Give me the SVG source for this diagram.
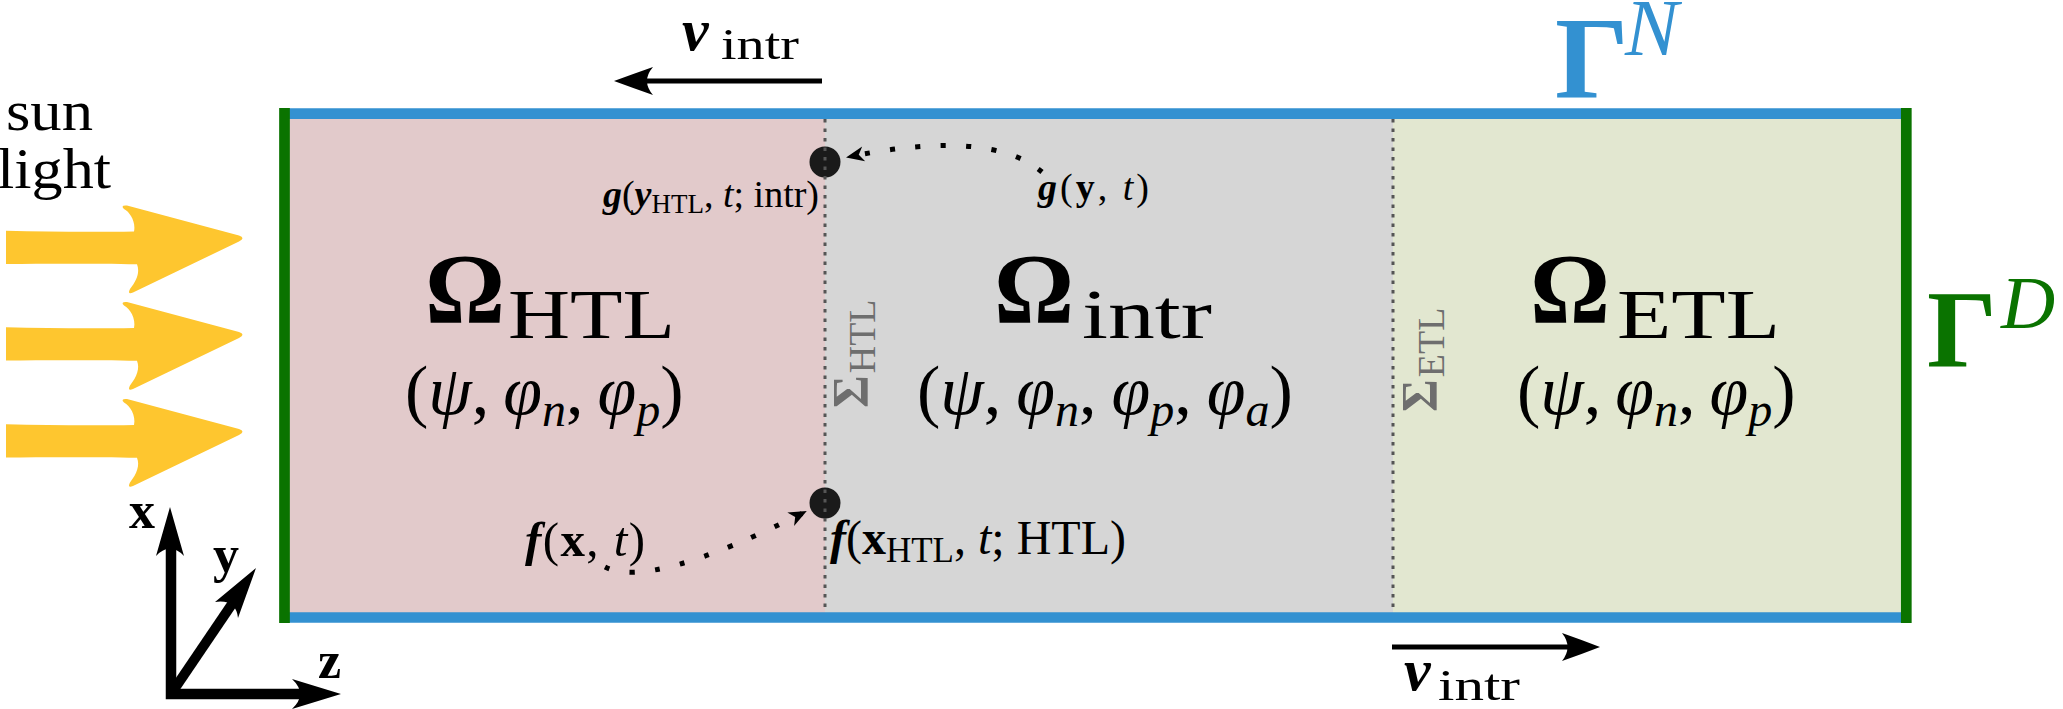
<svg xmlns="http://www.w3.org/2000/svg" width="2063" height="709" viewBox="0 0 2063 709">
<style>
text{font-family:"Liberation Serif","Times New Roman",serif;fill:#000}
.b{font-weight:bold}
.i{font-style:italic}
.bi{font-weight:bold;font-style:italic}
.sig{fill:#6e6e6e}
.dots{fill:none;stroke:#000;stroke-width:5;stroke-dasharray:5 20.5}
.div{fill:none;stroke:#555;stroke-width:3;stroke-dasharray:3.5 6}
.sun{fill:#fec62f}
</style>
<defs>
<marker id="ah" markerUnits="userSpaceOnUse" markerWidth="26" markerHeight="20" viewBox="-22 -10 26 20" refX="0" refY="0" orient="auto">
<path d="M2,0 L-16,-7.5 L-11,0 L-16,7.5 Z" fill="#000"/>
</marker>
<path id="sunArrow" d="M6,230.7 C50,232 100,232 134,231.5 C136,222 130,212 124,209 Q120,205 127,205.5 L239,235.5 Q246,238 239,241.5 L133,292.5 Q127,295 130,289 C137,280 140,272 137,264.3 C100,263.5 50,263.5 6,264 Z"/>
</defs>

<g id="sunlight">
<text x="49.5" y="130" font-size="58" text-anchor="middle" textLength="87" lengthAdjust="spacingAndGlyphs">sun</text>
<text x="54" y="188" font-size="58" text-anchor="middle" textLength="114" lengthAdjust="spacingAndGlyphs">light</text>
<use href="#sunArrow" class="sun"/>
<use href="#sunArrow" class="sun" transform="translate(0,96.5)"/>
<use href="#sunArrow" class="sun" transform="translate(0,193.5)"/>
</g>

<g id="htl">
<rect x="284" y="113" width="541" height="504" fill="#e2cacb"/>
<text class="b" x="425" y="322" font-size="100">Ω</text>
<text x="508" y="338" font-size="70" textLength="167" lengthAdjust="spacingAndGlyphs">HTL</text>
<text x="405" y="414" font-size="70">(<tspan class="i">ψ</tspan>,<tspan class="i" dx="14">φ</tspan><tspan class="i" font-size="48" dy="12">n</tspan><tspan dy="-12">,</tspan><tspan class="i" dx="14">φ</tspan><tspan class="i" font-size="48" dy="12">p</tspan><tspan dy="-12">)</tspan></text>
</g>

<g id="intr">
<rect x="825" y="113" width="568" height="504" fill="#d6d6d6"/>
<text class="b" x="994" y="322" font-size="100">Ω</text>
<text x="1082" y="338" font-size="70" textLength="130" lengthAdjust="spacingAndGlyphs">intr</text>
<text x="917" y="414" font-size="70">(<tspan class="i">ψ</tspan>,<tspan class="i" dx="15">φ</tspan><tspan class="i" font-size="48" dy="12">n</tspan><tspan dy="-12">,</tspan><tspan class="i" dx="15">φ</tspan><tspan class="i" font-size="48" dy="12">p</tspan><tspan dy="-12">,</tspan><tspan class="i" dx="15">φ</tspan><tspan class="i" font-size="48" dy="12">a</tspan><tspan dy="-12">)</tspan></text>
</g>

<g id="etl">
<rect x="1393" y="113" width="513" height="504" fill="#e2e7d0"/>
<text class="b" x="1530" y="322" font-size="100">Ω</text>
<text x="1617" y="338" font-size="70" textLength="163" lengthAdjust="spacingAndGlyphs">ETL</text>
<text x="1517" y="414" font-size="70">(<tspan class="i">ψ</tspan>,<tspan class="i" dx="14">φ</tspan><tspan class="i" font-size="48" dy="12">n</tspan><tspan dy="-12">,</tspan><tspan class="i" dx="14">φ</tspan><tspan class="i" font-size="48" dy="12">p</tspan><tspan dy="-12">)</tspan></text>
</g>

<g id="boundaries">
<line x1="284" y1="113.7" x2="1906" y2="113.7" stroke="#3391d1" stroke-width="10.7"/>
<line x1="284" y1="617.5" x2="1906" y2="617.5" stroke="#3391d1" stroke-width="10.7"/>
<line x1="284.5" y1="108" x2="284.5" y2="623" stroke="#0a7300" stroke-width="10.7"/>
<line x1="1906.3" y1="108" x2="1906.3" y2="623" stroke="#0a7300" stroke-width="10.7"/>
</g>

<g id="gammaN">
<text class="b" x="1555" y="97" font-size="116" style="fill:#3391d1">Γ</text>
<text class="i" x="1625" y="55" font-size="80" style="fill:#3391d1">N</text>
</g>
<g id="gammaD">
<text class="b" x="1927" y="367" font-size="110" style="fill:#0a7300">Γ</text>
<text class="i" x="2001" y="328" font-size="75" style="fill:#0a7300">D</text>
</g>

<g id="points">
<circle cx="825" cy="162" r="15.5" fill="#1a1a1a"/>
<circle cx="825" cy="503" r="15.5" fill="#1a1a1a"/>
</g>

<g id="interfaces">
<line class="div" x1="825" y1="119" x2="825" y2="612"/>
<line class="div" x1="1393" y1="119" x2="1393" y2="612"/>
<text class="sig" transform="translate(867,408) rotate(-90)"><tspan class="b sig" font-size="50">Σ</tspan><tspan class="sig" font-size="38" dy="8" dx="2">HTL</tspan></text>
<text class="sig" transform="translate(1436,412) rotate(-90)"><tspan class="b sig" font-size="50">Σ</tspan><tspan class="sig" font-size="38" dy="8" dx="2">ETL</tspan></text>
</g>

<g id="labels">
<text x="819" y="207" font-size="38" text-anchor="end"><tspan class="bi">g</tspan>(<tspan class="bi">y</tspan><tspan font-size="27" dy="6">HTL</tspan><tspan dy="-6">, </tspan><tspan class="i">t</tspan>; intr)</text>
<text x="1038" y="200" font-size="38" textLength="111" lengthAdjust="spacing"><tspan class="bi">g</tspan>(<tspan class="b">y</tspan>, <tspan class="i">t</tspan>)</text>
<text x="525" y="556" font-size="49" textLength="120" lengthAdjust="spacing"><tspan class="bi">f</tspan>(<tspan class="b">x</tspan>, <tspan class="i">t</tspan>)</text>
<text x="830" y="554" font-size="48"><tspan class="bi">f</tspan>(<tspan class="b">x</tspan><tspan font-size="35" dy="8">HTL</tspan><tspan dy="-8">, </tspan><tspan class="i">t</tspan>; HTL)</text>
</g>

<g id="velocityTop">
<line x1="822" y1="81" x2="640" y2="81" stroke="#000" stroke-width="5"/>
<path d="M614,81 Q633,74 653,67 Q641,81 653,95 Q633,88 614,81 Z" fill="#000"/>
<text class="bi" x="682" y="50" font-size="60">ν</text>
<text x="721" y="59" font-size="44" textLength="78" lengthAdjust="spacingAndGlyphs">intr</text>
</g>
<g id="velocityBottom">
<line x1="1392" y1="647" x2="1575" y2="647" stroke="#000" stroke-width="5"/>
<path d="M1600,647 Q1582,640 1562,633 Q1573,647 1562,661 Q1582,654 1600,647 Z" fill="#000"/>
<text class="bi" x="1404" y="690" font-size="60">ν</text>
<text x="1438" y="700" font-size="44" textLength="82" lengthAdjust="spacingAndGlyphs">intr</text>
</g>

<g id="axes">
<path d="M171,548 L171,694 L302,694" fill="none" stroke="#000" stroke-width="10.5" stroke-linejoin="miter"/>
<line x1="171" y1="694" x2="232" y2="604" stroke="#000" stroke-width="10"/>
<path d="M170,507 L184,556 Q170,541 156,556 Z" fill="#000"/>
<path d="M341,694 L292,679 Q308,694 292,709 Z" fill="#000"/>
<path d="M256,568 L238,618 Q236,599 215,602 Z" fill="#000"/>
<text class="b" x="129" y="528" font-size="52">x</text>
<text class="b" x="213" y="572" font-size="52">y</text>
<text class="b" x="318" y="678" font-size="52">z</text>
</g>

<g id="connectors">
<path class="dots" d="M1042,172 Q990,128 848,157" marker-end="url(#ah)"/>
<path class="dots" d="M605,567 Q650,590 805,512" marker-end="url(#ah)"/>
</g>
</svg>
